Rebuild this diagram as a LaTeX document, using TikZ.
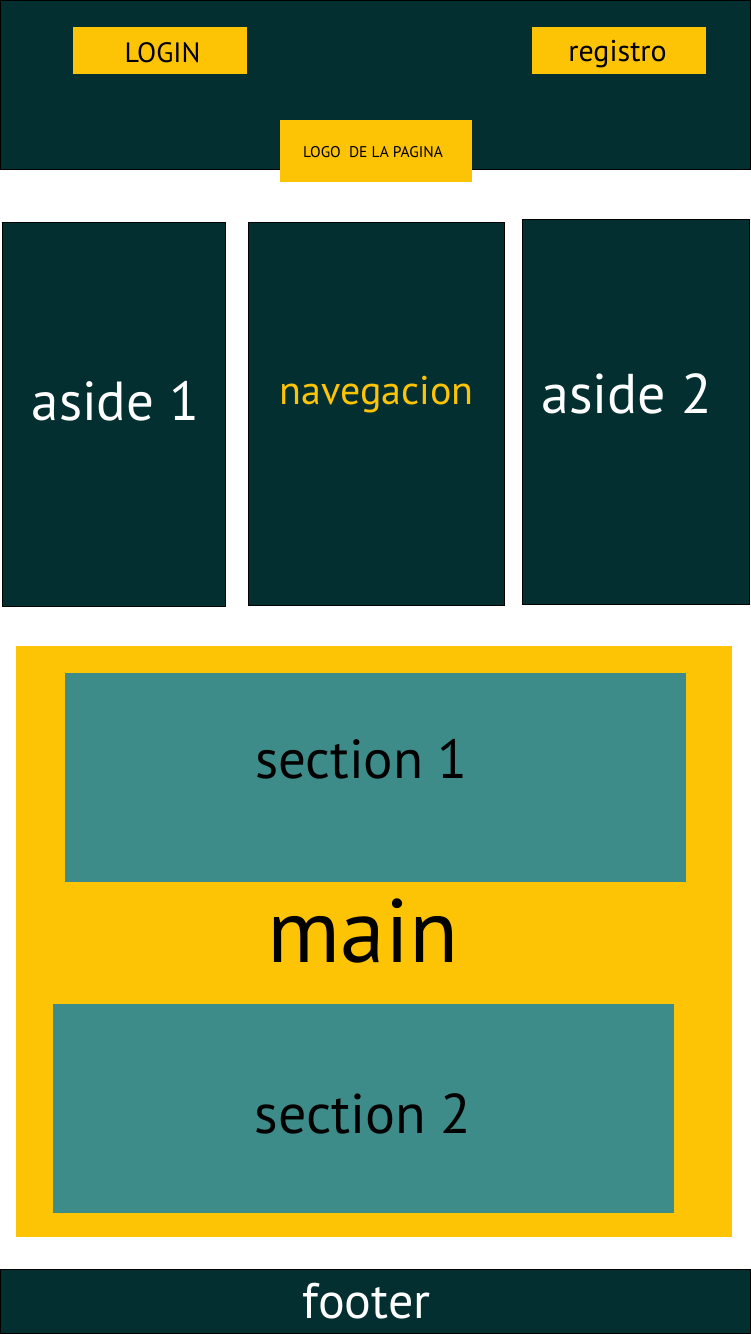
\documentclass[tikz,border=0pt]{standalone}
\usepackage{fontspec}
\setmainfont{PT Sans}
\definecolor{dk}{HTML}{032F30}
\definecolor{yl}{HTML}{FDC305}
\definecolor{tl}{HTML}{3D8C8A}
\tikzset{
  box/.style={anchor=north west, inner sep=0pt, outer sep=0pt},
  darkbox/.style={box, fill=dk, draw=black, line width=1pt},
  ylbox/.style={box, fill=yl},
  tlbox/.style={box, fill=tl},
  lbl/.style={anchor=base, inner sep=0pt},
  fs/.style={font=\fontsize{#1}{#1}\selectfont}
}
\begin{document}
\begin{tikzpicture}[x=1pt,y=-1pt]
\useasboundingbox[fill=white] (0,0) rectangle (751,1334);
% header
\node[darkbox, minimum width=750pt, minimum height=168.5pt] (hdr) at (0.5,0.5) {};
\node[ylbox, minimum width=174pt, minimum height=47pt] (login) at (73,27) {};
\node[ylbox, minimum width=174pt, minimum height=47pt] (reg) at (532,27) {};
\node[ylbox, minimum width=192pt, minimum height=62pt] (logo) at (280,120) {};
\node[lbl, fs=28] (loginT) at (162.5,62) {LOGIN};
\node[lbl, fs=30] (regT) at (617.5,61) {registro};
\node[lbl, fs=15.5] (logoT) at (373,157) {LOGO~~DE LA PAGINA};
% columns
\node[darkbox, minimum width=223pt, minimum height=384pt] (aside1) at (2,222) {};
\node[darkbox, minimum width=256pt, minimum height=383pt] (nav) at (248,222) {};
\node[darkbox, minimum width=227pt, minimum height=385pt] (aside2) at (522,219) {};
\node[lbl, fs=55, text=white] (aside1T) at (115.5,420) {aside 1};
\node[lbl, fs=40, text=yl] (navT) at (376.5,404) {navegacion};
\node[lbl, fs=56, text=white] (aside2T) at (626.5,413) {aside 2};
% main
\node[ylbox, minimum width=716pt, minimum height=591pt] (main) at (16,646) {};
\node[tlbox, minimum width=621pt, minimum height=209pt] (sec1) at (65,673) {};
\node[tlbox, minimum width=621pt, minimum height=209pt] (sec2) at (53,1004) {};
\node[lbl, fs=55] (sec1T) at (361.5,778) {section 1};
\node[lbl, fs=90] (mainT) at (363,962) {main};
\node[lbl, fs=56] (sec2T) at (363,1133) {section 2};
% footer
\node[darkbox, minimum width=750pt, minimum height=64pt] (footer) at (0.5,1269) {};
\node[lbl, fs=50, text=white] (footerT) at (366.5,1318) {footer};
\end{tikzpicture}
\end{document}
